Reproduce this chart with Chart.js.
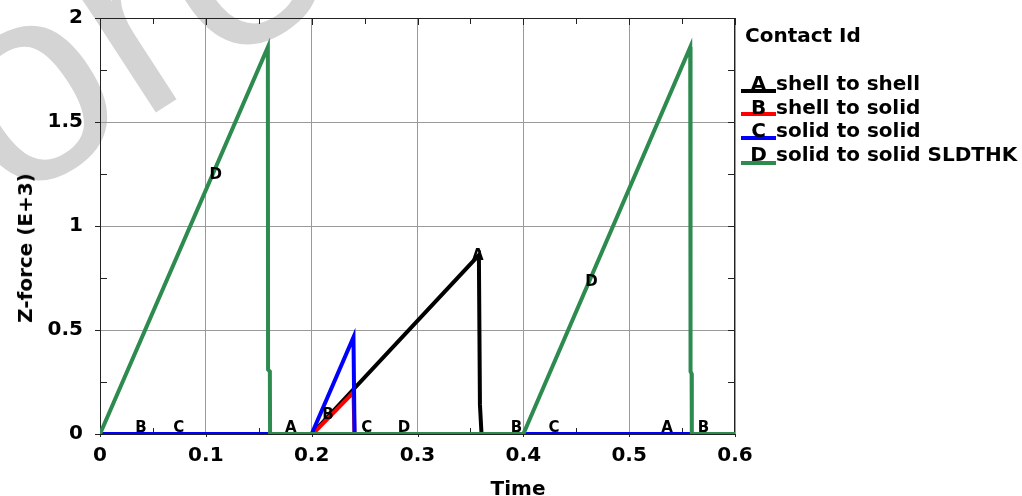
<!DOCTYPE html>
<html><head><meta charset="utf-8">
<script src="https://cdn.jsdelivr.net/npm/chart.js@4.4.1/dist/chart.umd.min.js"></script>
<style>
html,body{margin:0;padding:0;background:#fff;}
#wrap{position:relative;width:1022px;height:496px;overflow:hidden;font-family:"DejaVu Sans",sans-serif;font-weight:bold;color:#000;}
#wm{position:absolute;left:9.4px;top:-28.6px;font-family:"Liberation Sans",Arial,sans-serif;font-size:280px;line-height:280px;font-weight:normal;color:#d4d4d4;transform-origin:0 237px;transform:rotate(-33deg);white-space:nowrap;z-index:0}
canvas{position:absolute;left:0;top:0;z-index:1}
.t{position:absolute;white-space:nowrap;font-size:20px;line-height:20px;z-index:2}
.ln{position:absolute;height:4px;width:35px;left:741px;z-index:2}
</style></head>
<body>
<div id="wrap">
  <div id="wm">ore</div>
  <canvas id="c" width="1022" height="496"></canvas>
  <div id="legend"></div>
  <div class="t" id="xt" style="left:518px;top:478px;transform:translateX(-50%)">Time</div>
  <div class="t" id="yt" style="left:25px;top:248px;transform:translate(-50%,-50%) rotate(-90deg)">Z-force (E+3)</div>
</div>
<script>
// ---- data ----
const seriesIds = ['A', 'B', 'C', 'D'];
const seriesNames = ['shell to shell', 'shell to solid', 'solid to solid', 'solid to solid SLDTHK'];
const seriesColors = ['#000000', '#ff0000', '#0000ff', '#2e8b4f'];
const legendTitle = 'Contact Id';

const aTime = [0, 0.2, 0.358, 0.359, 0.3605, 0.6];
const aForce = [0, 0, 0.86, 0.14, 0, 0];
const bTime = [0, 0.201, 0.2395, 0.2405, 0.6];
const bForce = [0, 0, 0.2, 0, 0];
const cTime = [0, 0.2, 0.2395, 0.2405, 0.6];
const cForce = [0, 0, 0.465, 0, 0];
const dTime = [0, 0.1586, 0.1588, 0.1605, 0.1607, 0.4, 0.5577, 0.558, 0.559, 0.5592, 0.6];
const dForce = [0, 1.86, 0.31, 0.3, 0, 0, 1.86, 0.3, 0.29, 0, 0];

const xTickValues = [0, 0.1, 0.2, 0.3, 0.4, 0.5, 0.6];
const xTickLabels = ['0', '0.1', '0.2', '0.3', '0.4', '0.5', '0.6'];
const yTickValues = [0, 0.5, 1, 1.5, 2];
const yTickLabels = ['0', '0.5', '1', '1.5', '2'];
const xMinorValues = [0.05, 0.15, 0.25, 0.35, 0.45, 0.55];
const yMinorValues = [0.25, 0.75, 1.25, 1.75];

// curve identifier labels placed on the plot
const markText = ['B', 'C', 'A', 'B', 'C', 'D', 'B', 'C', 'A', 'B', 'D', 'A', 'D'];
const markTime = [0.0386, 0.0744, 0.1803, 0.2154, 0.252, 0.2873, 0.3934, 0.429, 0.5357, 0.5703, 0.1094, 0.357, 0.4643];
const markForce = [0.03, 0.03, 0.03, 0.092, 0.03, 0.03, 0.03, 0.03, 0.03, 0.03, 1.245, 0.857, 0.73];

// ---- legend (html) ----
(function(){
  const lg = document.getElementById('legend');
  let h = '<div class="t" style="left:745px;top:24.6px">' + legendTitle + '</div>';
  const capC = [82.5, 106.3, 130, 154];
  const lineC = [90.5, 114.3, 138.3, 162.7];
  seriesIds.forEach((id, i) => {
    h += '<div class="ln" style="top:' + (lineC[i] - 2) + 'px;background:' + seriesColors[i] + '"></div>';
    h += '<div class="t" style="left:758.5px;top:' + (capC[i] - 9.6) + 'px;transform:translateX(-50%)">' + id + '</div>';
    h += '<div class="t" style="left:776px;top:' + (capC[i] - 9.6) + 'px">' + seriesNames[i] + '</div>';
  });
  lg.innerHTML = h;
})();

function pts(xs, ys){ return xs.map((x, i) => ({x: x, y: ys[i]})); }
const allX = [aTime, bTime, cTime, dTime];
const allY = [aForce, bForce, cForce, dForce];

const frame = {
  id: 'frame',
  beforeDatasetsDraw(chart){
    const {ctx, chartArea: a, scales: {x, y}} = chart;
    ctx.save();
    ctx.strokeStyle = '#222';
    ctx.lineWidth = 1;
    ctx.strokeRect(a.left + 0.5, a.top + 0.5, a.right - a.left - 1, a.bottom - a.top);
    ctx.beginPath();
    xMinorValues.forEach(v => {
      const px = Math.round(x.getPixelForValue(v)) + 0.5;
      ctx.moveTo(px, a.bottom); ctx.lineTo(px, a.bottom - 6);
      ctx.moveTo(px, a.top); ctx.lineTo(px, a.top + 6);
    });
    xTickValues.forEach(v => {
      const px = Math.round(x.getPixelForValue(v)) + 0.5;
      ctx.moveTo(px, a.top); ctx.lineTo(px, a.top + 7);
      ctx.moveTo(px, a.bottom); ctx.lineTo(px, a.bottom + 3);
    });
    yMinorValues.forEach(v => {
      const py = Math.round(y.getPixelForValue(v)) + 0.5;
      ctx.moveTo(a.left, py); ctx.lineTo(a.left + 7, py);
      ctx.moveTo(a.right, py); ctx.lineTo(a.right - 7, py);
    });
    yTickValues.forEach(v => {
      const py = Math.round(y.getPixelForValue(v)) + 0.5;
      ctx.moveTo(a.right, py); ctx.lineTo(a.right - 7, py);
    });
    ctx.stroke();
    ctx.restore();
  },
  afterDatasetsDraw(chart){
    const {ctx, scales: {x, y}} = chart;
    ctx.save();
    ctx.fillStyle = '#000';
    ctx.font = 'bold 15px "DejaVu Sans"';
    ctx.textAlign = 'center';
    ctx.textBaseline = 'middle';
    markText.forEach((t, i) => {
      ctx.fillText(t, x.getPixelForValue(markTime[i]), y.getPixelForValue(markForce[i]));
    });
    ctx.restore();
  }
};

const tickFont = {family: '"DejaVu Sans"', size: 20, weight: 'bold'};

new Chart(document.getElementById('c'), {
  type: 'line',
  data: {
    datasets: seriesIds.map((id, i) => ({
      label: id + ' ' + seriesNames[i],
      data: pts(allX[i], allY[i]),
      borderColor: seriesColors[i],
      backgroundColor: seriesColors[i],
      borderWidth: 4,
      pointRadius: 0,
      tension: 0,
      fill: false,
      order: 4 - i,
      borderJoinStyle: 'miter',
      borderCapStyle: 'butt'
    }))
  },
  plugins: [frame],
  options: {
    responsive: false,
    animation: false,
    layout: {autoPadding: false, padding: {left: 0, right: 287, top: 18, bottom: 0}},
    plugins: {legend: {display: false}, tooltip: {enabled: false}},
    scales: {
      x: {
        type: 'linear', min: 0, max: 0.6,
        afterBuildTicks(s){ s.ticks = xTickValues.map(v => ({value: v})); },
        afterFit(s){ s.height = 62; s.paddingLeft = 0; s.paddingRight = 0; s.paddingTop = 0; s.paddingBottom = 0; },
        ticks: {
          color: '#000', font: tickFont, padding: 10, maxRotation: 0, autoSkip: false,
          callback(v){ const k = xTickValues.indexOf(v); return k >= 0 ? xTickLabels[k] : ''; }
        },
        grid: {color: '#9a9a9a', lineWidth: 1, drawTicks: false},
        border: {display: false}
      },
      y: {
        type: 'linear', min: 0, max: 2,
        afterBuildTicks(s){ s.ticks = yTickValues.map(v => ({value: v})); },
        afterFit(s){ s.width = 100; s.paddingLeft = 0; s.paddingRight = 0; s.paddingTop = 0; s.paddingBottom = 0; },
        ticks: {
          color: '#000', font: tickFont, padding: 12,
          callback(v){ const k = yTickValues.indexOf(v); return k >= 0 ? yTickLabels[k] : ''; }
        },
        grid: {color: '#9a9a9a', lineWidth: 1, drawTicks: true, tickLength: 5, tickColor: '#222'},
        border: {display: false}
      }
    }
  }
});
</script>
</body></html>
